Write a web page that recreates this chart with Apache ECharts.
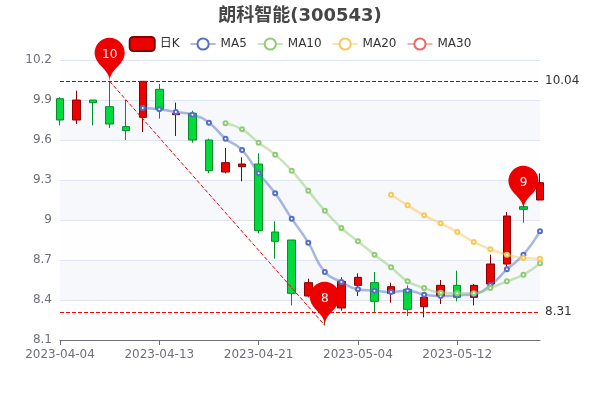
<!DOCTYPE html>
<html>
<head>
<meta charset="utf-8">
<style>
html, body { margin: 0; padding: 0; background: #fff; }
#main { width: 600px; height: 400px; }
</style>
<script src="https://cdn.jsdelivr.net/npm/echarts@6/dist/echarts.min.js"></script>
</head>
<body>
<div id="main"></div>
<script>
const dates = ['2023-04-04', '2023-04-06', '2023-04-07', '2023-04-10', '2023-04-11', '2023-04-12', '2023-04-13', '2023-04-14', '2023-04-17', '2023-04-18',
    '2023-04-19', '2023-04-20', '2023-04-21', '2023-04-24', '2023-04-25', '2023-04-26', '2023-04-27', '2023-04-28', '2023-05-04', '2023-05-05',
    '2023-05-08', '2023-05-09', '2023-05-10', '2023-05-11', '2023-05-12', '2023-05-15', '2023-05-16', '2023-05-17', '2023-05-18', '2023-05-19']
// open, close, low, high
const kData = [
    [9.91, 9.75, 9.71, 9.92], [9.75, 9.90, 9.72, 9.97], [9.90, 9.88, 9.71, 9.90], [9.85, 9.72, 9.69, 10.04], [9.70, 9.67, 9.60, 9.90],
    [9.77, 10.04, 9.66, 10.04], [9.98, 9.83, 9.76, 10.02], [9.79, 9.80, 9.63, 9.88], [9.80, 9.60, 9.58, 9.82], [9.60, 9.37, 9.35, 9.61],
    [9.36, 9.43, 9.35, 9.54], [9.40, 9.42, 9.29, 9.47], [9.42, 8.92, 8.90, 9.50], [8.91, 8.84, 8.71, 8.99], [8.85, 8.45, 8.36, 8.85],
    [8.43, 8.53, 8.42, 8.56], [8.51, 8.31, 8.21, 8.52], [8.34, 8.54, 8.32, 8.57], [8.51, 8.57, 8.43, 8.60], [8.53, 8.39, 8.31, 8.61],
    [8.45, 8.50, 8.38, 8.53], [8.48, 8.33, 8.28, 8.51], [8.35, 8.42, 8.27, 8.46], [8.43, 8.51, 8.37, 8.55], [8.51, 8.42, 8.39, 8.62],
    [8.42, 8.51, 8.36, 8.52], [8.52, 8.67, 8.51, 8.74], [8.67, 9.03, 8.65, 9.06], [9.10, 9.08, 8.98, 9.11], [9.15, 9.28, 9.15, 9.35]
]
const ma5 = ['-', '-', '-', '-', '-', 9.84, 9.83, 9.81, 9.79, 9.73, 9.61, 9.525, 9.35, 9.20, 9.01, 8.83, 8.61, 8.535, 8.48, 8.47,
    8.46, 8.47, 8.44, 8.43, 8.435, 8.445, 8.51, 8.63, 8.74, 8.915]
const ma10 = ['-', '-', '-', '-', '-', '-', '-', '-', '-', '-', 9.725, 9.68, 9.58, 9.49, 9.37, 9.22, 9.07, 8.94, 8.84, 8.74,
    8.645, 8.54, 8.49, 8.455, 8.45, 8.45, 8.49, 8.54, 8.59, 8.675]
const ma20 = ['-', '-', '-', '-', '-', '-', '-', '-', '-', '-', '-', '-', '-', '-', '-', '-', '-', '-', '-', '-',
    9.19, 9.11, 9.035, 8.975, 8.91, 8.835, 8.78, 8.74, 8.715, 8.71]
const ma30 = []
const pinIndex = [3, 16, 28]
const pinPrice = [10.04, 8.21, 9.08]
const pinLabel = [10, 8, 9]
const highest = 10.04
const lowest = 8.31

const maColors = ['#5470c6', '#91cc75', '#fac858', '#ee6666']
const fontName = '"DejaVu Sans", "Noto Sans CJK SC", sans-serif'

function maSeries(name, values) {
    return {
        name: name,
        type: 'line',
        data: values,
        smooth: true,
        symbol: 'emptyCircle',
        symbolSize: 4,
        showSymbol: true,
        lineStyle: { width: 2.5, opacity: 0.5 }
    }
}

const chart = echarts.init(document.getElementById('main'), null, { renderer: 'canvas' })
chart.setOption({
    animation: false,
    color: maColors,
    textStyle: { fontFamily: fontName },
    title: {
        text: '朗科智能(300543)',
        left: 'center',
        top: 2,
        textStyle: { color: '#464646', fontSize: 18, fontWeight: 'bold', fontFamily: fontName }
    },
    legend: {
        top: 31,
        itemGap: 10,
        data: ['日K', 'MA5', 'MA10', 'MA20', 'MA30'],
        textStyle: { color: '#333', fontFamily: fontName }
    },
    grid: { left: 60, right: 60, top: 60, bottom: 60 },
    xAxis: {
        type: 'category',
        data: dates,
        boundaryGap: false,
        axisLine: { lineStyle: { color: '#6E7079' } },
        axisTick: { show: true, alignWithLabel: true, interval: 5, lineStyle: { color: '#6E7079' } },
        axisLabel: { color: '#6E7079', interval: 5, margin: 9, fontSize: 12, fontFamily: fontName },
        splitLine: { show: false }
    },
    yAxis: {
        type: 'value',
        min: 8.1,
        max: 10.2,
        interval: 0.3,
        scale: true,
        axisLine: { show: false },
        axisTick: { show: false },
        axisLabel: {
            color: '#6E7079',
            fontSize: 12,
            fontFamily: fontName,
            padding: [4, 0, 0, 0],
            formatter: v => String(parseFloat(v.toFixed(1)))
        },
        splitLine: { show: true, lineStyle: { color: '#E0E6F1' } },
        splitArea: { show: true, areaStyle: { color: ['rgba(250,250,250,0.2)', 'rgba(210,219,238,0.2)'] } }
    },
    series: [
        {
            name: '日K',
            type: 'candlestick',
            data: kData,
            barWidth: 8,
            clip: false,
            itemStyle: {
                color: '#ec0000',
                color0: '#00da3c',
                borderColor: '#8A0000',
                borderColor0: '#008F28'
            },
            markPoint: {
                symbol: 'pin',
                symbolSize: 50,
                label: { color: '#fff', fontSize: 12, fontFamily: fontName },
                itemStyle: { color: '#ec0000' },
                data: pinIndex.map((idx, i) => ({ coord: [idx, pinPrice[i]], value: pinLabel[i] }))
            },
            markLine: {
                silent: true,
                symbol: 'none',
                label: { position: 'end', color: '#333', fontSize: 12, fontFamily: fontName, padding: [4, 0, 0, 0] },
                lineStyle: { type: 'dashed', width: 1 },
                data: [
                    { yAxis: highest, lineStyle: { color: '#c00000' } },
                    { yAxis: lowest, lineStyle: { color: '#ff0000' } },
                    [
                        { coord: [pinIndex[0], pinPrice[0]], lineStyle: { color: '#ec0000' }, label: { show: false } },
                        { coord: [pinIndex[1], pinPrice[1]] }
                    ]
                ]
            }
        },
        maSeries('MA5', ma5),
        maSeries('MA10', ma10),
        maSeries('MA20', ma20),
        maSeries('MA30', ma30)
    ]
})
</script>
</body>
</html>
